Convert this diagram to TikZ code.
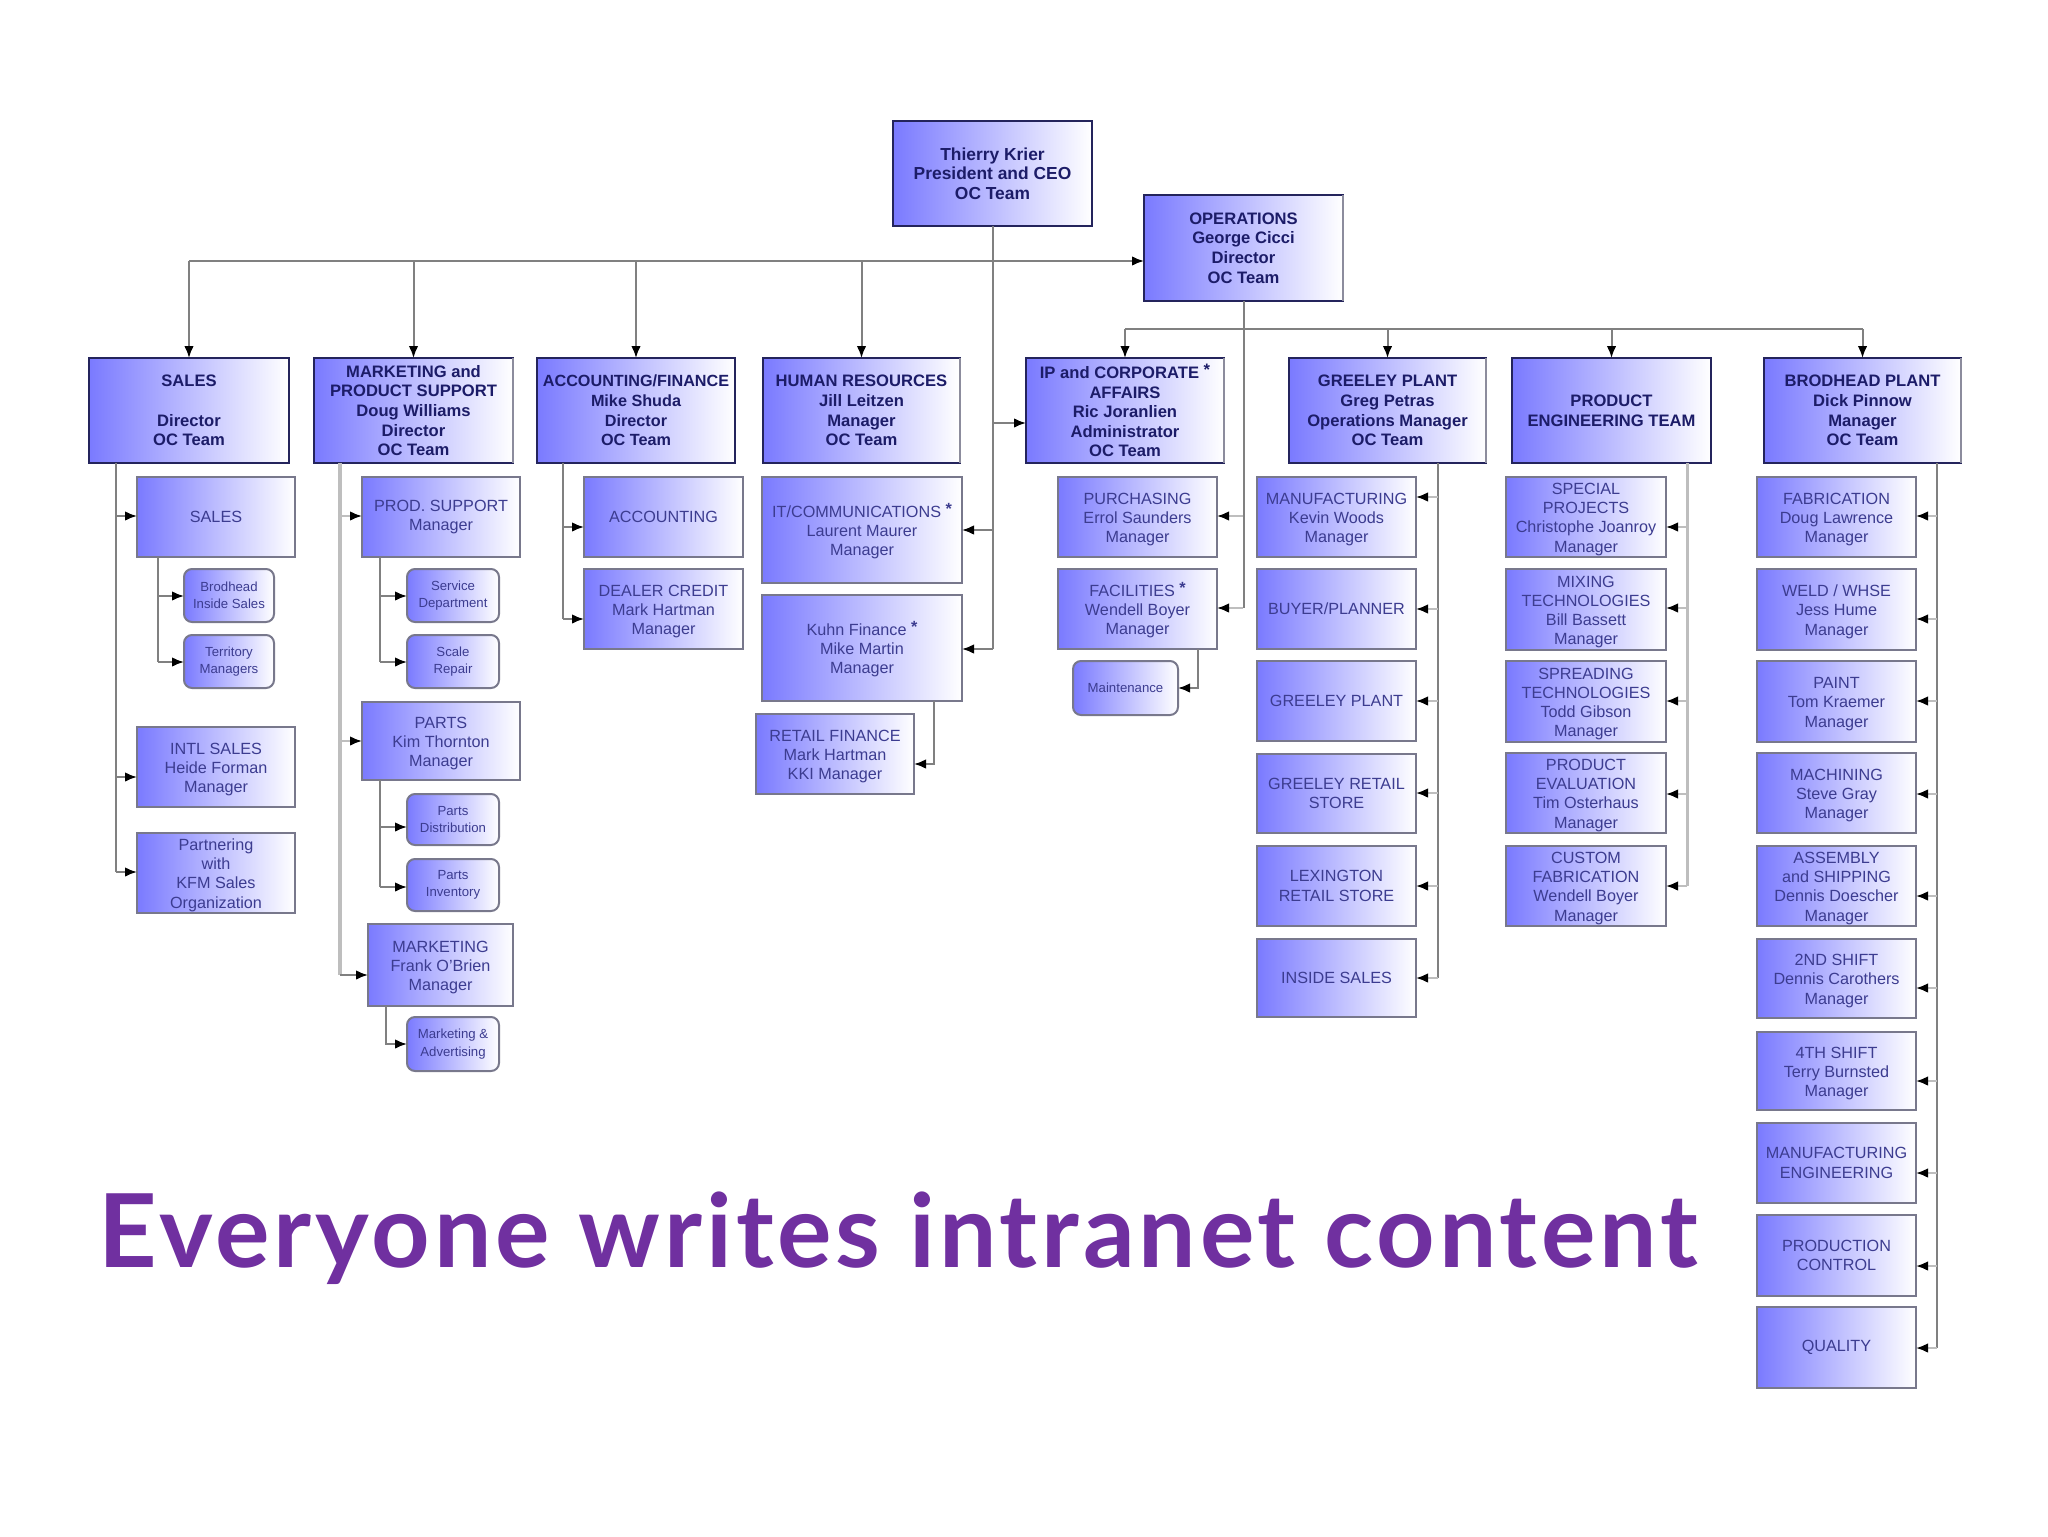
\documentclass[tikz,border=0pt]{standalone}
\usepackage{fontspec}
\setmainfont{Liberation Sans}
\newfontfamily\titlefont[LetterSpace=3.8]{Lato}
\usetikzlibrary{arrows.meta}
\definecolor{gradL}{HTML}{7A7AFF}
\definecolor{headline}{HTML}{24245C}
\definecolor{subline}{HTML}{78788C}
\definecolor{headtext}{HTML}{1C1C68}
\definecolor{subtext}{HTML}{3C3C90}
\definecolor{linkgray}{HTML}{808080}
\definecolor{linklight}{HTML}{BEBEBE}
\definecolor{titlepurple}{HTML}{7030A0}
\newcommand\lowpad{}
\newcommand\bx[7]{%
  \pgfmathsetmacro\cxv{(#3+#5)/2}%
  \pgfmathsetmacro\cyv{(#4+#6)/2}%
  \node[#1,minimum width={(#5-#3)*0.5pt},minimum height={(#6-#4)*0.5pt}] (#2) at (\cxv,\cyv) {\lowpad #7};}
% twig: from trunk #2 to side of node #3 at height #4
\newcommand\twig[4][linkgray]{\draw[arrowlink,#1] (#2 |- #3 |- 0,#4) -- (#3 |- 0,#4);}
\newcommand\astmark{\raisebox{1.5pt}{\bfseries*}}
\tikzset{
  boxbase/.style={rectangle,inner sep=0pt,outer sep=0pt,align=center,left color=gradL,right color=white},
  headbox/.style={boxbase,draw=headline,line width=1.4pt,text=headtext,font={\fontsize{8.3}{9.8}\selectfont\bfseries}},
  subbox/.style={boxbase,draw=subline,line width=1.2pt,text=subtext,font={\fontsize{8.1}{9.6}\selectfont}},
  sublow/.style={subbox,/utils/exec={\def\lowpad{\rule{0pt}{8pt}}}},
  smallbox/.style={boxbase,draw=subline,line width=1pt,rounded corners=4pt,text=subtext,font={\fontsize{6.6}{8.6}\selectfont}},
  link/.style={draw=linkgray,line width=1pt},
  arrowlink/.style={link,-{Latex[length=6pt,width=4.8pt,black]}},
  grayedge/.style={draw=subline!85!white,line width=1.4pt},
}
\begin{document}
\begin{tikzpicture}[x=0.5pt,y=-0.5pt]
\useasboundingbox (0,0) rectangle (2048,1536);
\fill[white] (0,0) rectangle (2048,1536);
% top
\bx{headbox,font={\fontsize{8.7}{9.8}\selectfont\bfseries}}{ceo}{893}{121}{1092}{226}{Thierry Krier\\President and CEO\\OC Team}
\bx{headbox}{ops}{1144}{195}{1343}{301}{OPERATIONS\\George Cicci\\Director\\OC Team}
% heads
\bx{headbox}{sales}{89}{358}{289}{463}{SALES\\\mbox{}\\Director\\OC Team}
\bx{headbox}{mkt}{314}{358}{513}{463}{MARKETING and\\PRODUCT SUPPORT\\Doug Williams\\Director\\OC Team}
\bx{headbox,font={\fontsize{8.1}{9.8}\selectfont\bfseries}}{acc}{537}{358}{735}{463}{ACCOUNTING/FINANCE\\Mike Shuda\\Director\\OC Team}
\bx{headbox}{hr}{763}{358}{960}{463}{HUMAN RESOURCES\\Jill Leitzen\\Manager\\OC Team}
\bx{headbox}{ip}{1026}{358}{1224}{463}{IP and CORPORATE \astmark\\AFFAIRS\\Ric Joranlien\\Administrator\\OC Team}
\bx{headbox}{gp}{1289}{358}{1486}{463}{GREELEY PLANT\\Greg Petras\\Operations Manager\\OC Team}
\bx{headbox}{pe}{1512}{358}{1711}{463}{PRODUCT\\ENGINEERING TEAM}
\bx{headbox}{bp}{1764}{358}{1961}{463}{BRODHEAD PLANT\\Dick Pinnow\\Manager\\OC Team}
\foreach \h in {ops,mkt,hr,ip,gp,bp}{\draw[grayedge] (\h.north east) -- (\h.south east);}
% sales column
\bx{subbox}{s1}{137}{477}{295}{557}{SALES}
\bx{smallbox}{s1a}{184}{569}{274}{622}{Brodhead\\Inside Sales}
\bx{smallbox}{s1b}{184}{635}{274}{688}{Territory\\Managers}
\bx{sublow}{s2}{137}{727}{295}{807}{INTL SALES\\Heide Forman\\Manager}
\bx{sublow}{s3}{137}{833}{295}{913}{Partnering\\with\\KFM Sales\\Organization}
% marketing column
\bx{subbox}{m1}{362}{477}{520}{557}{PROD. SUPPORT\\Manager}
\bx{smallbox}{m1a}{407}{569}{499}{622}{Service\\Department}
\bx{smallbox}{m1b}{407}{635}{499}{688}{Scale\\Repair}
\bx{sublow}{m2}{362}{702}{520}{780}{PARTS\\Kim Thornton\\Manager}
\bx{smallbox}{m2a}{407}{794}{499}{845}{Parts\\Distribution}
\bx{smallbox}{m2b}{407}{859}{499}{911}{Parts\\Inventory}
\bx{sublow}{m3}{368}{924}{513}{1006}{MARKETING\\Frank O'Brien\\Manager}
\bx{smallbox}{m3a}{407}{1017}{499}{1071}{Marketing \&\\Advertising}
% accounting
\bx{subbox}{a1}{584}{477}{743}{557}{ACCOUNTING}
\bx{sublow}{a2}{584}{569}{743}{649}{DEALER CREDIT\\Mark Hartman\\Manager}
% HR
\bx{sublow}{h1}{762}{477}{962}{583}{IT/COMMUNICATIONS \astmark\\Laurent Maurer\\Manager}
\bx{sublow}{h2}{762}{595}{962}{701}{Kuhn Finance \astmark\\Mike Martin\\Manager}
\bx{sublow}{h3}{756}{714}{914}{794}{RETAIL FINANCE\\Mark Hartman\\KKI Manager}
% IP
\bx{sublow}{i1}{1058}{477}{1217}{557}{PURCHASING\\Errol Saunders\\Manager}
\bx{sublow}{i2}{1058}{569}{1217}{649}{FACILITIES \astmark\\Wendell Boyer\\Manager}
\bx{smallbox}{i2a}{1073}{661}{1178}{715}{Maintenance}
% Greeley
\bx{sublow}{g1}{1257}{477}{1416}{557}{MANUFACTURING\\Kevin Woods\\Manager}
\bx{subbox}{g2}{1257}{569}{1416}{649}{BUYER/PLANNER}
\bx{subbox}{g3}{1257}{661}{1416}{741}{GREELEY PLANT}
\bx{subbox}{g4}{1257}{754}{1416}{833}{GREELEY RETAIL\\STORE}
\bx{subbox}{g5}{1257}{846}{1416}{926}{LEXINGTON\\RETAIL STORE}
\bx{subbox}{g6}{1257}{939}{1416}{1017}{INSIDE SALES}
% Product eng
\bx{sublow}{p1}{1506}{477}{1666}{557}{SPECIAL\\PROJECTS\\Christophe Joanroy\\Manager}
\bx{sublow}{p2}{1506}{569}{1666}{650}{MIXING\\TECHNOLOGIES\\Bill Bassett\\Manager}
\bx{sublow}{p3}{1506}{661}{1666}{742}{SPREADING\\TECHNOLOGIES\\Todd Gibson\\Manager}
\bx{sublow}{p4}{1506}{753}{1666}{833}{PRODUCT\\EVALUATION\\Tim Osterhaus\\Manager}
\bx{sublow}{p5}{1506}{846}{1666}{926}{CUSTOM\\FABRICATION\\Wendell Boyer\\Manager}
% Brodhead
\bx{sublow}{b1}{1757}{477}{1916}{557}{FABRICATION\\Doug Lawrence\\Manager}
\bx{sublow}{b2}{1757}{569}{1916}{650}{WELD / WHSE\\Jess Hume\\Manager}
\bx{sublow}{b3}{1757}{661}{1916}{742}{PAINT\\Tom Kraemer\\Manager}
\bx{sublow}{b4}{1757}{753}{1916}{833}{MACHINING\\Steve Gray\\Manager}
\bx{sublow}{b5}{1757}{846}{1916}{926}{ASSEMBLY\\and SHIPPING\\Dennis Doescher\\Manager}
\bx{sublow}{b6}{1757}{939}{1916}{1018}{2ND SHIFT\\Dennis Carothers\\Manager}
\bx{sublow}{b7}{1757}{1032}{1916}{1110}{4TH SHIFT\\Terry Burnsted\\Manager}
\bx{subbox}{b8}{1757}{1123}{1916}{1203}{MANUFACTURING\\ENGINEERING}
\bx{subbox}{b9}{1757}{1215}{1916}{1296}{PRODUCTION\\CONTROL}
\bx{subbox}{b10}{1757}{1307}{1916}{1388}{QUALITY}
% trunk positions
\coordinate (busA) at (0,261);
\coordinate (busB) at (0,329);
\coordinate (tOps) at (1243,0);
\coordinate (tFac) at (1198,0);
\coordinate (tSal) at (116,0);
\coordinate (tSal2) at (158,0);
\coordinate (tMkt) at (340,0);
\coordinate (tMkt2) at (380,0);
\coordinate (tMkt3) at (386,0);
\coordinate (tAcc) at (563,0);
\coordinate (tRet) at (934,0);
\coordinate (tGp) at (1438,0);
\coordinate (tPe) at (1687,0);
\coordinate (tBp) at (1937,0);
% bus lines
\draw[arrowlink] (sales.north |- busA) -- (ops.west |- busA);
\draw[arrowlink] (sales.north |- busA) -- (sales.north);
\draw[arrowlink] (mkt.north |- busA) -- (mkt.north);
\draw[arrowlink] (acc.north |- busA) -- (acc.north);
\draw[arrowlink] (hr.north |- busA) -- (hr.north);
\draw[link] (ceo.south) -- (ceo.south |- 0,649);
\twig{ceo.south}{ip.west}{423}
\twig{ceo.south}{h1.east}{530}
\twig{ceo.south}{h2.east}{649}
\draw[link] (ip.north |- busB) -- (bp.north |- busB);
\draw[arrowlink] (ip.north |- busB) -- (ip.north);
\draw[arrowlink] (gp.north |- busB) -- (gp.north);
\draw[arrowlink] (pe.north |- busB) -- (pe.north);
\draw[arrowlink] (bp.north |- busB) -- (bp.north);
% ops trunk
\draw[link] (ops.south) -- (ops.south |- 0,608);
\twig[linklight]{tOps}{i1.east}{516}
\twig[linklight]{tOps}{i2.east}{608}
\draw[arrowlink] (tFac |- i2.south) |- (i2a.east);
% sales trunks
\draw[link] (tSal |- sales.south) -- (tSal |- 0,872);
\twig{tSal}{s1.west}{516}
\twig{tSal}{s2.west}{777}
\twig{tSal}{s3.west}{872}
\draw[link] (tSal2 |- s1.south) -- (tSal2 |- 0,662);
\twig{tSal2}{s1a.west}{596}
\twig{tSal2}{s1b.west}{662}
% marketing trunks
\draw[link,linklight,line width=2pt] (tMkt |- mkt.south) -- (tMkt |- 0,975);
\twig[linklight]{tMkt}{m1.west}{516}
\twig[linklight]{tMkt}{m2.west}{741}
\twig{tMkt}{m3.west}{975}
\draw[link] (tMkt2 |- m1.south) -- (tMkt2 |- 0,662);
\twig{tMkt2}{m1a.west}{596}
\twig{tMkt2}{m1b.west}{662}
\draw[link] (tMkt2 |- m2.south) -- (tMkt2 |- 0,887);
\twig{tMkt2}{m2a.west}{827}
\twig{tMkt2}{m2b.west}{887}
\draw[arrowlink] (tMkt3 |- m3.south) |- (m3a.west);
% accounting
\draw[link] (tAcc |- acc.south) -- (tAcc |- 0,619);
\twig{tAcc}{a1.west}{527}
\twig{tAcc}{a2.west}{619}
% retail finance
\draw[arrowlink] (tRet |- h2.south) |- (h3.east |- 0,764);
% greeley
\draw[link] (tGp |- gp.south) -- (tGp |- 0,978);
\twig[linklight]{tGp}{g1.east}{497}
\twig[linklight]{tGp}{g2.east}{609}
\twig[linklight]{tGp}{g3.east}{701}
\twig[linklight]{tGp}{g4.east}{793}
\twig[linklight]{tGp}{g5.east}{886}
\twig[linklight]{tGp}{g6.east}{978}
% product eng
\draw[link,linklight,line width=1.5pt] (tPe |- pe.south) -- (tPe |- 0,886);
\twig[linklight]{tPe}{p1.east}{527}
\twig[linklight]{tPe}{p2.east}{608}
\twig[linklight]{tPe}{p3.east}{701}
\twig[linklight]{tPe}{p4.east}{794}
\twig[linklight]{tPe}{p5.east}{886}
% brodhead
\draw[link] (tBp |- bp.south) -- (tBp |- 0,1348);
\twig[linklight]{tBp}{b1.east}{516}
\twig[linklight]{tBp}{b2.east}{619}
\twig[linklight]{tBp}{b3.east}{701}
\twig[linklight]{tBp}{b4.east}{794}
\twig[linklight]{tBp}{b5.east}{896}
\twig[linklight]{tBp}{b6.east}{988}
\twig[linklight]{tBp}{b7.east}{1081}
\twig[linklight]{tBp}{b8.east}{1173}
\twig[linklight]{tBp}{b9.east}{1266}
\twig[linklight]{tBp}{b10.east}{1348}
% title
\node[anchor=base west,inner sep=0pt,text=titlepurple,font={\titlefont\bfseries\fontsize{51}{60}\selectfont}] (title) at (98,1267) {Everyone writes intranet content};
\end{tikzpicture}
\end{document}
